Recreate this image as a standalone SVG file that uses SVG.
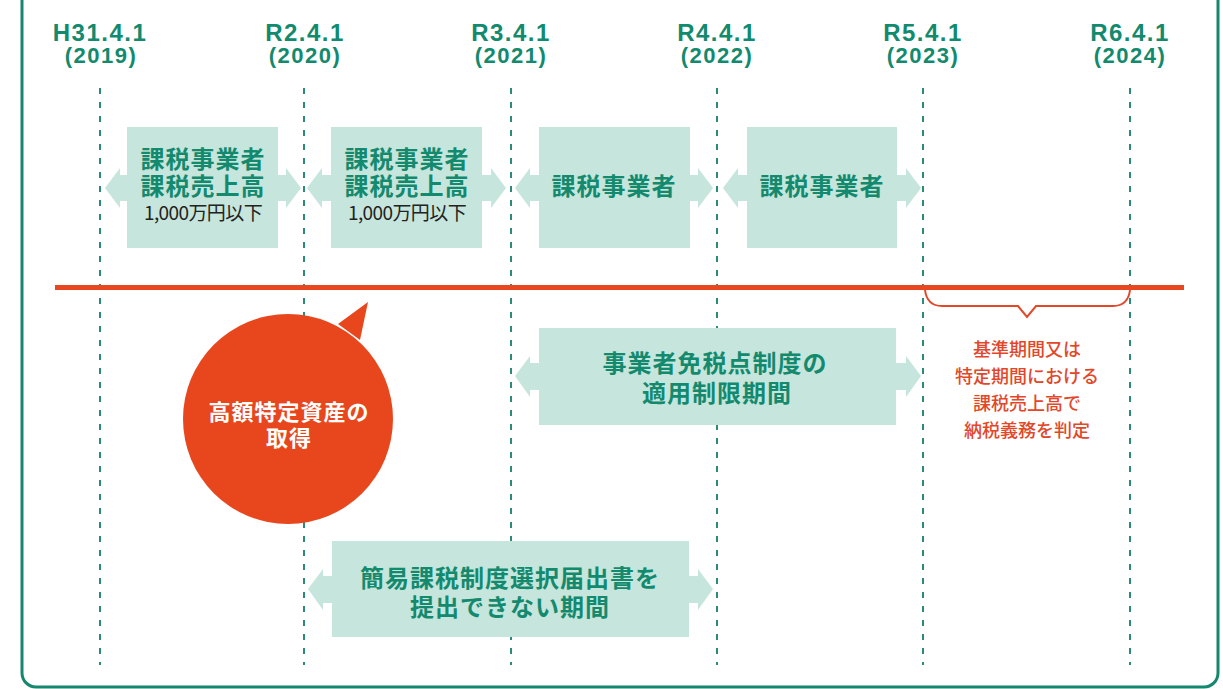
<svg xmlns="http://www.w3.org/2000/svg" width="1223" height="689" viewBox="0 0 1223 689">
<style>
.hd{font-family:"Liberation Sans","Noto Sans CJK JP",sans-serif;font-weight:bold;fill:#128a6e;text-anchor:middle}
.h1{font-size:24px;letter-spacing:1.5px}
.h2{font-size:22px;letter-spacing:1.5px}
.grid{stroke:#2b8a78;stroke-width:2;stroke-dasharray:6 8;fill:none}
.box{fill:#c6e5dc}
.bt{font-family:"Noto Sans CJK JP",sans-serif;font-weight:bold;fill:#138a6e;text-anchor:middle;font-size:24px;letter-spacing:1px}
.st{font-family:"Noto Sans CJK JP",sans-serif;fill:#222;text-anchor:middle;font-size:19px;letter-spacing:-0.6px}
.wt{font-family:"Noto Sans CJK JP",sans-serif;font-weight:bold;fill:#fff;text-anchor:middle;font-size:22px;letter-spacing:1px}
.rt{font-family:"Noto Sans CJK JP",sans-serif;font-weight:500;fill:#e2472a;text-anchor:middle;font-size:18px}
</style>
<rect width="1223" height="689" fill="#fff"/>
<rect x="22" y="-30" width="1196" height="717" rx="14" fill="none" stroke="#16876f" stroke-width="3"/>

<g id="headers">
<text class="hd h1" x="100" y="41">H31.4.1</text><text class="hd h2" x="101" y="63">(2019)</text>
<text class="hd h1" x="305" y="41">R2.4.1</text><text class="hd h2" x="305" y="63">(2020)</text>
<text class="hd h1" x="511" y="41">R3.4.1</text><text class="hd h2" x="511" y="63">(2021)</text>
<text class="hd h1" x="717" y="41">R4.4.1</text><text class="hd h2" x="717" y="63">(2022)</text>
<text class="hd h1" x="923" y="41">R5.4.1</text><text class="hd h2" x="923" y="63">(2023)</text>
<text class="hd h1" x="1130" y="41">R6.4.1</text><text class="hd h2" x="1130" y="63">(2024)</text>
</g>

<g id="gridlines">
<line class="grid" x1="100" y1="88" x2="100" y2="665"/>
<line class="grid" x1="304" y1="88" x2="304" y2="665"/>
<line class="grid" x1="511" y1="88" x2="511" y2="665"/>
<line class="grid" x1="717" y1="88" x2="717" y2="665"/>
<line class="grid" x1="923" y1="88" x2="923" y2="665"/>
<line class="grid" x1="1130" y1="88" x2="1130" y2="665"/>
</g>

<g id="connectors">
<line id="redline" x1="55" y1="287.5" x2="1184" y2="287.5" stroke="#e9471f" stroke-width="5"/>
<path id="brace" d="M925,290 Q927,306 942,306 H1018 L1027,317 L1036,306 H1113 Q1128,306 1130,290" fill="none" stroke="#e2472a" stroke-width="2"/>
</g>

<g id="box1">
<path class="box" d="M127,127 H278 V175 H286 V168 L301,188 L286,208 V201 H278 V248 H127 V201 H120 V208 L105,188 L120,168 V175 H127 Z"/>
<text class="bt" x="203" y="168">課税事業者</text>
<text class="bt" x="203" y="195">課税売上高</text>
<text class="st" x="203" y="220">1,000万円以下</text>
</g>
<g id="box2">
<path class="box" d="M331,127 H482 V175 H491 V168 L506,188 L491,208 V201 H482 V248 H331 V201 H322 V208 L307,188 L322,168 V175 H331 Z"/>
<text class="bt" x="407" y="168">課税事業者</text>
<text class="bt" x="407" y="195">課税売上高</text>
<text class="st" x="407" y="220">1,000万円以下</text>
</g>
<g id="box3">
<path class="box" d="M539,127 H690 V175 H698 V168 L713,188 L698,208 V201 H690 V248 H539 V201 H530 V208 L515,188 L530,168 V175 H539 Z"/>
<text class="bt" x="614" y="195">課税事業者</text>
</g>
<g id="box4">
<path class="box" d="M747,127 H897 V175 H906 V168 L921,188 L906,208 V201 H897 V248 H747 V201 H738 V208 L723,188 L738,168 V175 H747 Z"/>
<text class="bt" x="822" y="195">課税事業者</text>
</g>

<g id="bubble">
<path d="M338,324 L368,302 L360,340 Z" fill="#e8471e"/>
<circle cx="288" cy="419" r="105" fill="#e8471e"/>
<text class="wt" x="289" y="420">高額特定資産の</text>
<text class="wt" x="289" y="446">取得</text>
</g>

<g id="box-middle">
<path class="box" d="M539,328 H896 V363 H906 V356 L921,376 L906,397 V390 H896 V425 H539 V390 H530 V397 L515,376 L530,356 V363 H539 Z"/>
<text class="bt" x="715" y="372">事業者免税点制度の</text>
<text class="bt" x="717" y="402">適用制限期間</text>
</g>

<g id="box-bottom">
<path class="box" d="M332,541 H689 V576 H698 V569 L713,589 L698,610 V603 H689 V637 H332 V603 H323 V610 L308,589 L323,569 V576 H332 Z"/>
<text class="bt" x="510" y="587">簡易課税制度選択届出書を</text>
<text class="bt" x="510" y="616">提出できない期間</text>
</g>

<g id="note">
<text class="rt" x="1027" y="356">基準期間又は</text>
<text class="rt" x="1027" y="383">特定期間における</text>
<text class="rt" x="1027" y="410">課税売上高で</text>
<text class="rt" x="1027" y="437">納税義務を判定</text>
</g>
</svg>
